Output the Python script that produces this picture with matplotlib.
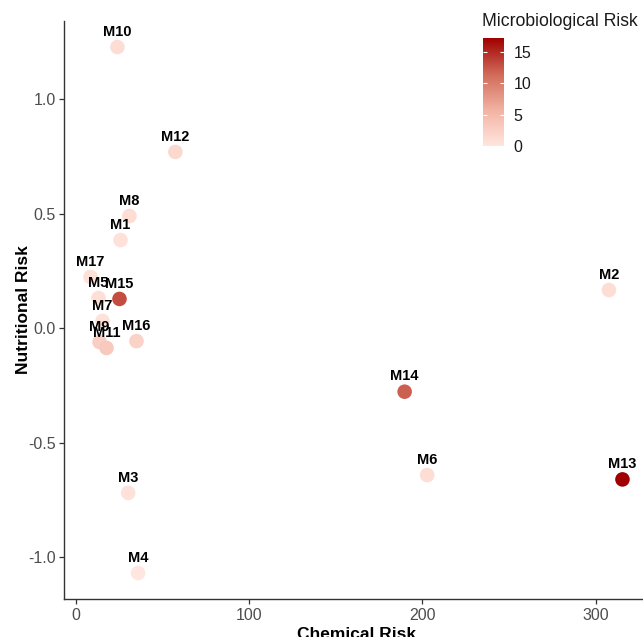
import matplotlib.pyplot as plt
import numpy as np
from matplotlib.colors import LinearSegmentedColormap, Normalize
from matplotlib.cm import ScalarMappable

plt.rcParams['font.family'] = ['Liberation Sans', 'DejaVu Sans']

# data
labels = ['M1', 'M2', 'M3', 'M4', 'M5', 'M6', 'M7', 'M8', 'M9',
          'M10', 'M11', 'M12', 'M13', 'M14', 'M15', 'M16', 'M17']
chemical = [25.9, 307.5, 30.3, 36.0, 13.2, 202.7, 15.5, 31.0, 13.8,
            24.1, 17.8, 57.5, 315.3, 189.7, 25.3, 35.1, 8.6]
nutritional = [0.384, 0.166, -0.72, -1.07, 0.131, -0.642, 0.031, 0.489, -0.061,
               1.227, -0.087, 0.769, -0.661, -0.278, 0.127, -0.057, 0.223]
micro = [0.6, 1.0, 0.6, 0.0, 0.8, 1.0, 0.5, 1.0, 2.5,
         1.0, 3.2, 1.5, 17.2, 12.0, 13.0, 2.2, 0.7]

x_ticks = [0, 100, 200, 300]
y_ticks = [-1.0, -0.5, 0.0, 0.5, 1.0]
cb_ticks = [0, 5, 10, 15]

cmap = LinearSegmentedColormap.from_list('micro', ['#FFE6DE', '#F2B2A2', '#D06A58', '#A00000'])
norm = Normalize(vmin=min(micro), vmax=max(micro))

fig = plt.figure(figsize=(6.43, 6.37), dpi=100)
ax = fig.add_axes([64 / 643, 37.6 / 637, 585 / 643, 578.7 / 637])

ax.scatter(chemical, nutritional, c=micro, cmap=cmap, norm=norm, s=110,
           edgecolors='none', zorder=2)
for lab, x, y in zip(labels, chemical, nutritional):
    ax.annotate(lab, (x, y), xytext=(0, 11), textcoords='offset points',
                ha='center', va='center', fontsize=10.5, fontweight='bold',
                color='black', zorder=3)

ax.set_xlim(-6.7, 330.6)
ax.set_ylim(-1.185, 1.342)
ax.set_xticks(x_ticks)
ax.set_yticks(y_ticks)
ax.set_xticklabels([str(t) for t in x_ticks])
ax.set_yticklabels([f'{t:.1f}' for t in y_ticks])
ax.tick_params(colors='#333333', labelcolor='#4D4D4D', labelsize=11.5,
               length=3.5, width=0.9, pad=2.5)
for side in ['top', 'right']:
    ax.spines[side].set_visible(False)
for side in ['left', 'bottom']:
    ax.spines[side].set_linewidth(1.0)
    ax.spines[side].set_color('#333333')

ax.set_xlabel('Chemical Risk', fontsize=12.5, fontweight='bold', labelpad=3)
ax.set_ylabel('Nutritional Risk', fontsize=12.5, fontweight='bold', labelpad=-2)

# colour legend
cax = fig.add_axes([483 / 643, 1 - 146 / 637, 21 / 643, 108 / 637])
cb = fig.colorbar(ScalarMappable(norm=norm, cmap=cmap), cax=cax, ticks=cb_ticks)
cb.outline.set_visible(False)
cax.tick_params(direction='in', color='white', length=3, width=0.8,
                left=True, right=True, labelsize=11.5, labelcolor='#1A1A1A', pad=7)
fig.text(482 / 643, 1 - 21 / 637, 'Microbiological Risk', fontsize=12.7,
         ha='left', va='center', color='#1A1A1A')

fig.savefig('out.png', dpi=100)
